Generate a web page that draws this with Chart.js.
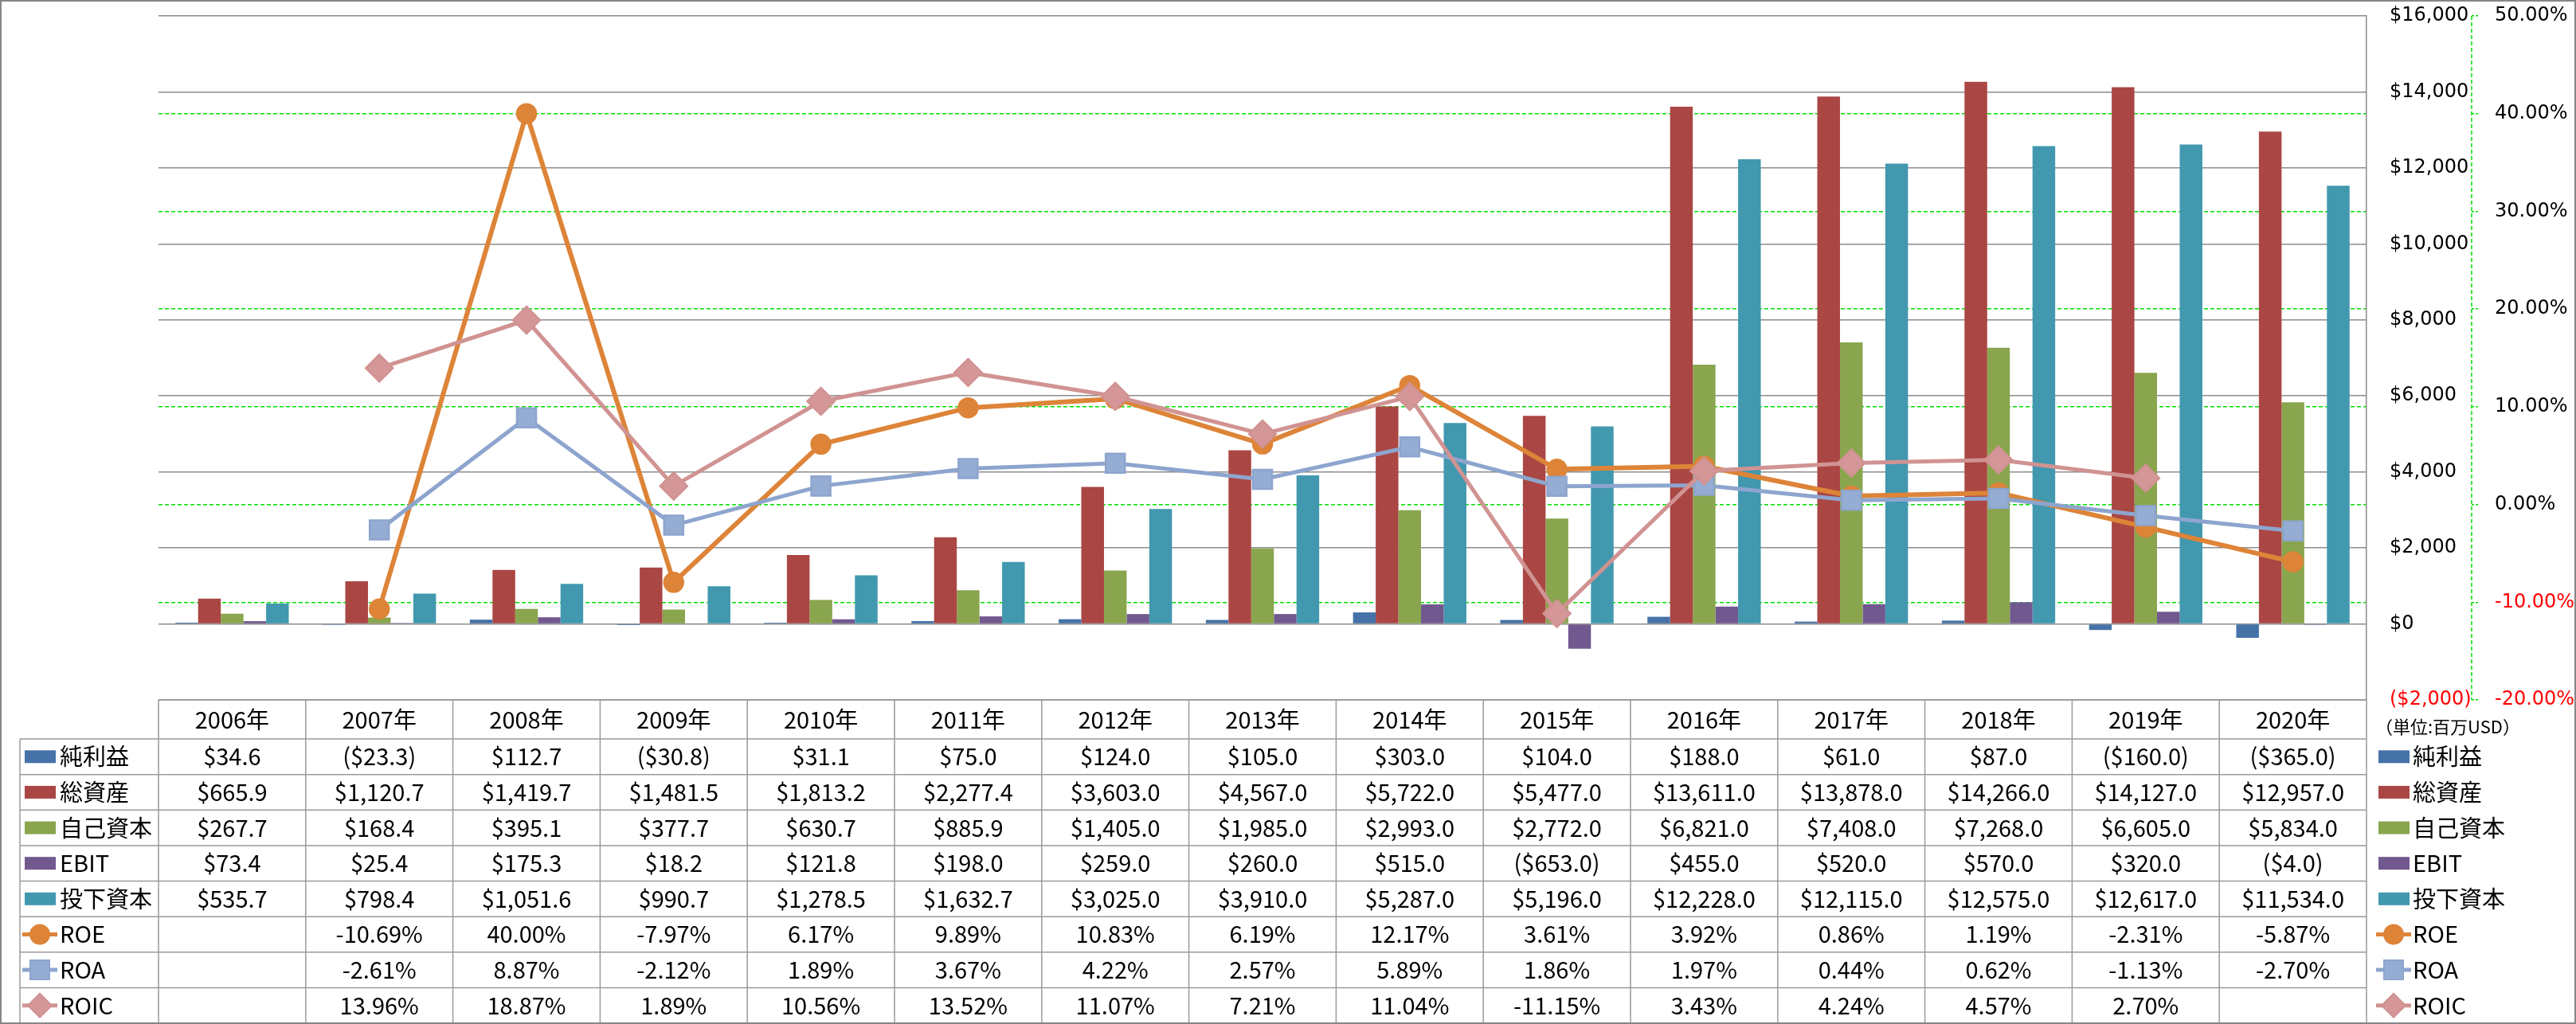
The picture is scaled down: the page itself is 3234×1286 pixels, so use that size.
<!DOCTYPE html>
<html>
<head>
<meta charset="utf-8">
<script src="https://cdn.jsdelivr.net/npm/chart.js@4.4.1/dist/chart.umd.min.js"></script>
<style>
  html, body { margin: 0; padding: 0; background: #fff; }
</style>
</head>
<body>
<canvas id="chart" width="3234" height="1286"></canvas>
<script>
// データ（単位: 百万USD / %）
const years = ['2006年', '2007年', '2008年', '2009年', '2010年', '2011年', '2012年', '2013年', '2014年', '2015年', '2016年', '2017年', '2018年', '2019年', '2020年'];
const netIncome   = [34.6, -23.3, 112.7, -30.8, 31.1, 75.0, 124.0, 105.0, 303.0, 104.0, 188.0, 61.0, 87.0, -160.0, -365.0];
const totalAssets = [665.9, 1120.7, 1419.7, 1481.5, 1813.2, 2277.4, 3603.0, 4567.0, 5722.0, 5477.0, 13611.0, 13878.0, 14266.0, 14127.0, 12957.0];
const equity      = [267.7, 168.4, 395.1, 377.7, 630.7, 885.9, 1405.0, 1985.0, 2993.0, 2772.0, 6821.0, 7408.0, 7268.0, 6605.0, 5834.0];
const ebit        = [73.4, 25.4, 175.3, 18.2, 121.8, 198.0, 259.0, 260.0, 515.0, -653.0, 455.0, 520.0, 570.0, 320.0, -4.0];
const investedCap = [535.7, 798.4, 1051.6, 990.7, 1278.5, 1632.7, 3025.0, 3910.0, 5287.0, 5196.0, 12228.0, 12115.0, 12575.0, 12617.0, 11534.0];
const roe  = [null, -10.69, 40.00, -7.97, 6.17, 9.89, 10.83, 6.19, 12.17, 3.61, 3.92, 0.86, 1.19, -2.31, -5.87];
const roa  = [null, -2.61, 8.87, -2.12, 1.89, 3.67, 4.22, 2.57, 5.89, 1.86, 1.97, 0.44, 0.62, -1.13, -2.70];
const roic = [null, 13.96, 18.87, 1.89, 10.56, 13.52, 11.07, 7.21, 11.04, -11.15, 3.43, 4.24, 4.57, 2.70, null];

const unitLabel = '（単位:百万USD）';

const TEXT_FONT = '"Noto Sans CJK JP", sans-serif';
const AXIS_FONT = '"DejaVu Sans", "Noto Sans CJK JP", sans-serif';

const fmt1 = v => v.toLocaleString('en-US', { minimumFractionDigits: 1, maximumFractionDigits: 1 });
const money = v => v == null ? '' : (v < 0 ? '($' + fmt1(-v) + ')' : '$' + fmt1(v));
const pct = v => v == null ? '' : v.toFixed(2) + '%';

function barSet(label, data, color) {
  return { type: 'bar', label, data, backgroundColor: color, yAxisID: 'y', order: 10,
           categoryPercentage: 0.77, barPercentage: 1.0 };
}
function lineSet(label, data, color, fill, style, radius, width, order) {
  return { type: 'line', label, data, yAxisID: 'y1', order,
           borderColor: color, borderWidth: width, tension: 0,
           pointStyle: style, pointRadius: radius, pointHoverRadius: radius,
           pointBackgroundColor: fill, pointBorderColor: color, pointBorderWidth: 2.5 };
}

// 表と凡例（Excel のデータテーブル風）
const tablePlugin = {
  id: 'dataTable',
  afterDraw(chart) {
    const { ctx, chartArea: a, scales: { x, y1 } } = chart;
    const W = chart.width, H = chart.height;
    const sets = chart.data.datasets;
    const colW = x.getPixelForValue(1) - x.getPixelForValue(0);
    const firstLeft = x.getPixelForValue(0) - colW / 2;
    const headTop = a.bottom, headBot = 928, bottom = H - 1;
    const rowH = (bottom - headBot) / sets.length;
    const labelLeft = 25;

    ctx.save();
    // 右軸の破線
    ctx.strokeStyle = '#00e000'; ctx.lineWidth = 1.5; ctx.setLineDash([5, 3]);
    ctx.beginPath(); ctx.moveTo(y1.left, a.top); ctx.lineTo(y1.left, a.bottom); ctx.stroke();
    ctx.setLineDash([]);

    // 罫線
    ctx.strokeStyle = '#9a9a9a'; ctx.lineWidth = 1.5;
    ctx.beginPath();
    ctx.moveTo(firstLeft, headTop); ctx.lineTo(a.right, headTop);
    for (let r = 0; r <= sets.length; r++) {
      const yy = headBot + r * rowH;
      ctx.moveTo(labelLeft, yy); ctx.lineTo(a.right, yy);
    }
    ctx.moveTo(labelLeft, headBot); ctx.lineTo(labelLeft, bottom);
    for (let i = 0; i <= years.length; i++) {
      const xx = firstLeft + i * colW;
      ctx.moveTo(xx, headTop); ctx.lineTo(xx, bottom);
    }
    ctx.stroke();

    // 見出し・値
    ctx.fillStyle = '#000';
    ctx.textBaseline = 'middle';
    ctx.textAlign = 'center';
    ctx.font = '29px ' + TEXT_FONT;
    years.forEach((yr, i) => ctx.fillText(yr, x.getPixelForValue(i), (headTop + headBot) / 2));
    sets.forEach((ds, r) => {
      const cy = headBot + (r + 0.5) * rowH;
      ds.data.forEach((v, i) => {
        ctx.fillText(ds.type === 'line' ? pct(v) : money(v), x.getPixelForValue(i), cy);
      });
    });

    // 凡例（左：表の行見出し、右：凡例）
    ctx.textAlign = 'left';
    sets.forEach((ds, r) => {
      const cy = headBot + (r + 0.5) * rowH;
      drawKey(ctx, ds, 50, cy);
      drawKey(ctx, ds, 3005, cy);
      ctx.fillStyle = '#000';
      ctx.fillText(ds.label, 75, cy);
      ctx.fillText(ds.label, 3029, cy);
    });
    ctx.font = '22px "Noto Sans CJK JP", sans-serif';
    ctx.fillText(unitLabel, 2982, 913);

    // 外枠
    ctx.strokeStyle = '#868686'; ctx.lineWidth = 2;
    ctx.strokeRect(1, 1, W - 2, H - 2);
    ctx.restore();
  }
};

function drawKey(ctx, ds, cx, cy) {
  if (ds.type === 'line') {
    ctx.strokeStyle = ds.borderColor; ctx.lineWidth = 5;
    ctx.beginPath(); ctx.moveTo(cx - 22, cy); ctx.lineTo(cx + 22, cy); ctx.stroke();
    ctx.fillStyle = ds.pointBackgroundColor;
    ctx.beginPath();
    if (ds.pointStyle === 'circle') ctx.arc(cx, cy, 12, 0, Math.PI * 2);
    else if (ds.pointStyle === 'rect') ctx.rect(cx - 12, cy - 12, 24, 24);
    else { ctx.moveTo(cx, cy - 15); ctx.lineTo(cx + 15, cy); ctx.lineTo(cx, cy + 15); ctx.lineTo(cx - 15, cy); ctx.closePath(); }
    ctx.fill();
    ctx.lineWidth = 2; ctx.strokeStyle = ds.borderColor; ctx.stroke();
  } else {
    ctx.fillStyle = ds.backgroundColor;
    ctx.fillRect(cx - 19, cy - 8, 39, 16);
  }
}

const ctx = document.getElementById('chart').getContext('2d');
const chart = new Chart(ctx, {
  data: {
    labels: years,
    datasets: [
      barSet('純利益', netIncome, '#4572A7'),
      barSet('総資産', totalAssets, '#AA4643'),
      barSet('自己資本', equity, '#89A54E'),
      barSet('EBIT', ebit, '#71588F'),
      barSet('投下資本', investedCap, '#4198AF'),
      lineSet('ROE', roe, '#DD8438', '#DD8438', 'circle', 12, 6, 3),
      lineSet('ROA', roa, '#8DA5CE', '#95ACD3', 'rect', 17, 5, 2),
      lineSet('ROIC', roic, '#D09392', '#D49696', 'rectRot', 17, 5, 1)
    ]
  },
  options: {
    responsive: false,
    animation: false,
    layout: { padding: { left: 199, top: 20, right: 0, bottom: 407 } },
    plugins: { legend: { display: false }, tooltip: { enabled: false } },
    scales: {
      x: { display: false, offset: true },
      y: {
        position: 'right', weight: 0,
        min: -2000, max: 16000,
        ticks: {
          stepSize: 2000, padding: 29,
          font: { family: AXIS_FONT, size: 24 },
          color: c => c.tick.value < 0 ? '#ff0000' : '#000',
          callback: v => v < 0 ? '($' + (-v).toLocaleString('en-US') + ')' : '$' + v.toLocaleString('en-US')
        },
        grid: { color: '#8c8c8c', lineWidth: 1.5, drawTicks: false },
        border: { display: true, color: '#8c8c8c', width: 1.5 },
        afterFit: s => { s.width = 132; s.paddingTop = 0; s.paddingBottom = 0; }
      },
      y1: {
        position: 'right', weight: 1,
        min: -20, max: 50,
        ticks: {
          stepSize: 10, padding: 19,
          font: { family: AXIS_FONT, size: 24 },
          color: c => c.tick.value < 0 ? '#ff0000' : '#000',
          callback: v => v.toFixed(2) + '%'
        },
        grid: {
          color: c => (c.tick && (c.tick.value === 50 || c.tick.value === -20)) ? 'rgba(0,0,0,0)' : '#00e000',
          lineWidth: 1.5, tickLength: 10, tickColor: '#00e000', tickBorderDash: [3, 2]
        },
        border: { display: false, dash: [5, 3] },
        afterFit: s => { s.width = 131; s.paddingTop = 0; s.paddingBottom = 0; }
      }
    }
  },
  plugins: [tablePlugin]
});
</script>
</body>
</html>
